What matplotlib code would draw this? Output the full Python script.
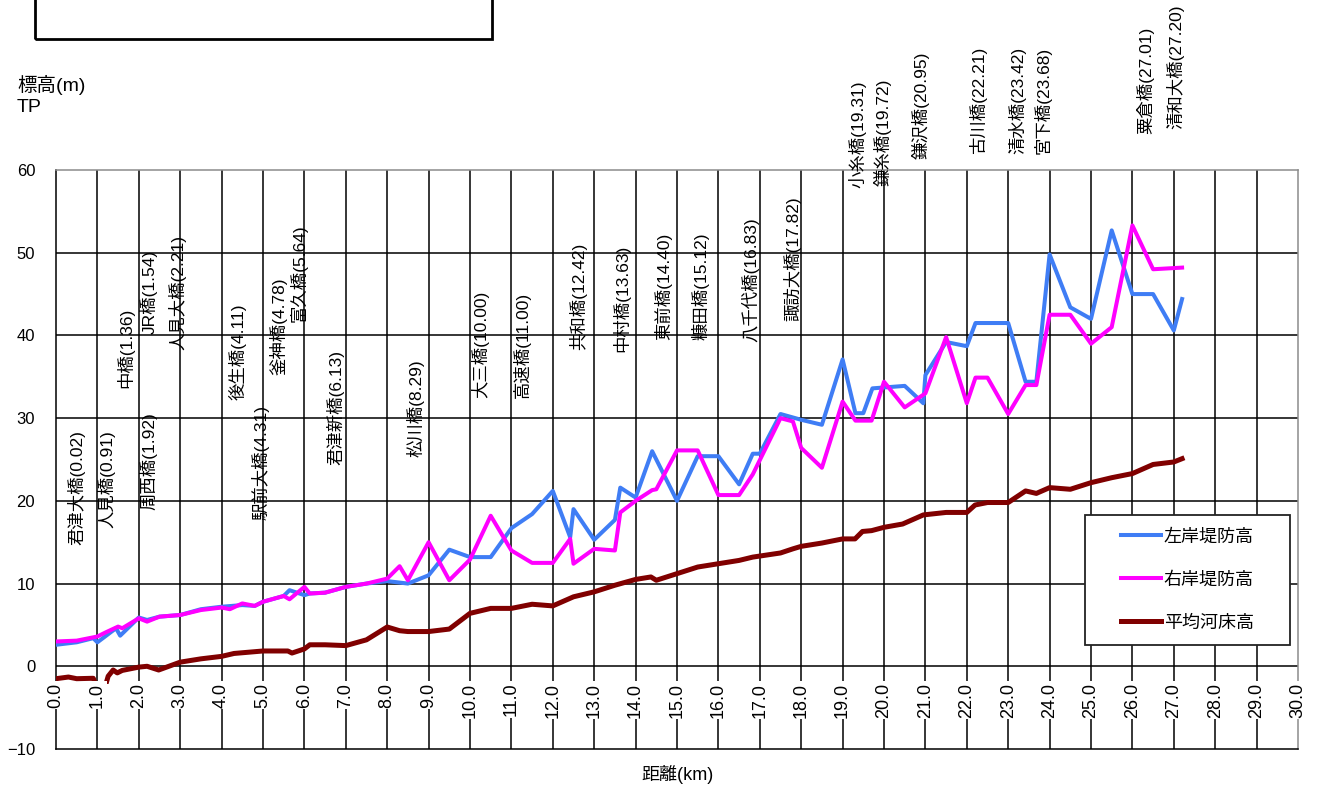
import matplotlib
matplotlib.use('Agg')
import matplotlib.pyplot as plt
from matplotlib.patches import Rectangle

plt.rcParams['font.family'] = ['Liberation Sans', 'Noto Sans CJK JP']

# 左岸堤防高
left_km = [0.0, 0.5, 0.9, 1.0, 1.45, 1.55, 2.0, 2.2, 2.5, 3.0,
           3.5, 4.0, 4.5, 4.8, 5.0, 5.5, 5.64, 6.0, 6.13, 6.5,
           7.0, 7.5, 8.0, 8.5, 9.0, 9.5, 10.0, 10.5, 11.0, 11.5,
           12.0, 12.42, 12.5, 13.0, 13.5, 13.63, 14.0, 14.4, 15.0, 15.5,
           16.0, 16.5, 16.83, 17.0, 17.5, 18.0, 18.5, 19.0, 19.31, 19.5,
           19.72, 20.5, 20.95, 21.0, 21.5, 22.0, 22.21, 23.0, 23.42, 23.68,
           24.0, 24.5, 25.0, 25.5, 26.0, 26.5, 27.0, 27.2]
left_h = [2.6, 2.9, 3.4, 2.9, 4.6, 3.7, 5.9, 5.6, 6.0, 6.2,
          6.9, 7.2, 7.4, 7.3, 7.8, 8.5, 9.2, 8.6, 8.8, 8.9,
          9.6, 10.0, 10.3, 10.0, 11.0, 14.1, 13.2, 13.2, 16.7, 18.4,
          21.2, 15.6, 19.0, 15.3, 17.7, 21.6, 20.4, 26.0, 20.0, 25.4,
          25.4, 22.0, 25.7, 25.7, 30.5, 29.8, 29.2, 37.1, 30.6, 30.6,
          33.6, 33.9, 31.8, 35.2, 39.2, 38.7, 41.5, 41.5, 34.4, 34.4,
          49.8, 43.4, 42.0, 52.7, 45.0, 45.0, 40.6, 44.4]

# 右岸堤防高
right_km = [0.0, 0.5, 1.0, 1.2, 1.5, 1.6, 2.0, 2.2, 2.5, 3.0,
            3.5, 4.0, 4.2, 4.5, 4.8, 5.0, 5.5, 5.64, 6.0, 6.13,
            6.5, 7.0, 7.5, 8.0, 8.3, 8.5, 9.0, 9.5, 10.0, 10.5,
            11.0, 11.5, 12.0, 12.42, 12.5, 13.0, 13.5, 13.63, 14.0, 14.4,
            14.5, 15.0, 15.5, 16.0, 16.5, 16.83, 17.5, 17.8, 18.0, 18.5,
            19.0, 19.31, 19.7, 20.0, 20.5, 21.0, 21.5, 22.0, 22.21, 22.5,
            23.0, 23.42, 23.68, 24.0, 24.5, 25.0, 25.5, 26.0, 26.5, 27.2]
right_h = [3.0, 3.1, 3.6, 4.1, 4.8, 4.6, 5.8, 5.4, 6.0, 6.2,
           6.8, 7.1, 6.9, 7.6, 7.3, 7.8, 8.5, 8.1, 9.6, 8.8,
           8.9, 9.6, 10.0, 10.6, 12.1, 10.4, 15.0, 10.4, 12.9, 18.2,
           14.0, 12.5, 12.5, 15.4, 12.4, 14.2, 14.0, 18.6, 20.0, 21.3,
           21.4, 26.1, 26.1, 20.7, 20.7, 23.2, 30.0, 29.6, 26.4, 24.0,
           32.0, 29.7, 29.7, 34.4, 31.3, 33.0, 39.8, 31.8, 34.9, 34.9,
           30.5, 34.0, 34.0, 42.5, 42.5, 39.0, 41.0, 53.3, 48.0, 48.2]

# 平均河床高
bed_km = [0.0, 0.3, 0.5, 0.9, 1.1, 1.26, 1.38, 1.48, 1.6, 2.0,
          2.2, 2.48, 3.0, 3.5, 4.0, 4.3, 5.0, 5.6, 5.7, 6.0,
          6.13, 6.5, 7.0, 7.5, 8.0, 8.3, 8.5, 9.0, 9.5, 10.0,
          10.5, 11.0, 11.5, 12.0, 12.5, 13.0, 13.5, 14.0, 14.37, 14.5,
          15.0, 15.5, 16.0, 16.5, 16.83, 17.5, 17.8, 18.0, 18.5, 19.0,
          19.3, 19.48, 19.7, 20.0, 20.45, 20.95, 21.5, 22.0, 22.2, 22.5,
          23.0, 23.42, 23.68, 24.0, 24.5, 25.0, 25.5, 26.0, 26.5, 27.0,
          27.2]
bed_h = [-1.5, -1.3, -1.5, -1.45, -4.0, -1.2, -0.45, -0.8, -0.5, -0.1,
         0.0, -0.45, 0.5, 0.9, 1.2, 1.55, 1.85, 1.85, 1.6, 2.1,
         2.6, 2.6, 2.5, 3.2, 4.75, 4.3, 4.2, 4.2, 4.5, 6.4,
         7.0, 7.0, 7.5, 7.3, 8.4, 9.0, 9.8, 10.5, 10.8, 10.4,
         11.2, 12.0, 12.4, 12.8, 13.2, 13.7, 14.2, 14.5, 14.9, 15.4,
         15.4, 16.3, 16.4, 16.8, 17.2, 18.3, 18.6, 18.6, 19.5, 19.8,
         19.8, 21.2, 20.9, 21.6, 21.4, 22.2, 22.8, 23.3, 24.4, 24.7,
         25.1]

# 橋梁名と距離標
bridge_names = ['君津大橋', '人見橋', '中橋', 'JR橋', '周西橋', '人見大橋',
                '後生橋', '駅前大橋', '釜神橋', '富久橋', '君津新橋', '松川橋',
                '大三橋', '高速橋', '共和橋', '中村橋', '東前橋', '糠田橋',
                '八千代橋', '諏訪大橋', '小糸橋', '鎌糸橋', '鎌沢橋', '古川橋',
                '清水橋', '宮下橋', '粟倉橋', '清和大橋']
bridge_km = ['0.02', '0.91', '1.36', '1.54', '1.92', '2.21',
             '4.11', '4.31', '4.78', '5.64', '6.13', '8.29',
             '10.00', '11.00', '12.42', '13.63', '14.40', '15.12',
             '16.83', '17.82', '19.31', '19.72', '20.95', '22.21',
             '23.42', '23.68', '27.01', '27.20']

# label anchor (x = column centre, y = start of the text)
label_xy = [(0.49, 14.7), (1.21, 16.7), (1.67, 33.6), (2.23, 40.2), (2.23, 18.9), (2.93, 38.2),
            (4.38, 32.2), (4.93, 17.7), (5.37, 35.2), (5.85, 41.6), (6.75, 24.3), (8.68, 25.3),
            (10.25, 32.4), (11.26, 32.4), (12.62, 38.2), (13.65, 38.0), (14.67, 39.4), (15.56, 39.4),
            (16.77, 39.2), (17.79, 41.8), (19.36, 57.8), (19.96, 58.1), (20.88, 61.3), (22.28, 61.9),
            (23.22, 61.9), (23.82, 61.9), (26.31, 64.3), (27.04, 64.9)]

W, H = 1317, 787
fig = plt.figure(figsize=(W / 100, H / 100), dpi=100)
ax = fig.add_axes([56 / W, 1 - 749 / H, (1298 - 56) / W, (749 - 170) / H])
ax.set_xlim(0, 30)
ax.set_ylim(-10, 60)

# grid
for y in range(0, 60, 10):
    ax.axhline(y, color='black', lw=1.1, zorder=1)
for x in range(1, 30):
    ax.axvline(x, color='black', lw=1.1, zorder=1)
for s in ['left', 'bottom']:
    ax.spines[s].set_color('black')
    ax.spines[s].set_linewidth(1.1)
for s in ['top', 'right']:
    ax.spines[s].set_color('#8c8c8c')
    ax.spines[s].set_linewidth(1.1)

ax.set_xticks([])
ax.set_yticks(range(-10, 61, 10))
ax.tick_params(axis='y', length=0, pad=15, labelsize=12)

clip = Rectangle((0, -2.1), 30, 63, transform=ax.transData)
l1, = ax.plot(left_km, left_h, color='#3f7df5', lw=2.9, label='左岸堤防高', zorder=3)
l2, = ax.plot(right_km, right_h, color='#ff00ff', lw=2.9, label='右岸堤防高', zorder=3)
l3, = ax.plot(bed_km, bed_h, color='#800000', lw=3.6, label='平均河床高', zorder=3)
for ln in (l1, l2, l3):
    ln.set_clip_path(clip)

# distance labels sit inside the plot, below the 0 line
for k in range(31):
    ax.text(k, -2.0, f'{k:.1f}', rotation=90, ha='center', va='top', fontsize=13,
            bbox=dict(facecolor='white', edgecolor='none', pad=1), zorder=4)

for name, km, (lx, ly) in zip(bridge_names, bridge_km, label_xy):
    ax.text(lx, ly, f'{name}({km})', rotation=90, ha='center', va='bottom',
            fontsize=12.5, clip_on=False, zorder=3.5)

# legend box
ax.add_patch(Rectangle((0.8285, 0.1796), 0.1651, 0.2245, transform=ax.transAxes,
                       facecolor='white', edgecolor='#222222', lw=1.3, zorder=5))
leg = ax.legend(handles=[l1, l2, l3], loc='center', bbox_to_anchor=(0.911, 0.292),
                frameon=False, fontsize=13, handlelength=2.2, handletextpad=0.15,
                labelspacing=1.45)
leg.set_zorder(6)

fig.text(17 / W, 1 - 85 / H, '標高(m)', fontsize=14, va='center', ha='left')
fig.text(17 / W, 1 - 108 / H, 'TP', fontsize=14, va='center', ha='left')
fig.text(677 / W, 1 - 775 / H, '距離(km)', fontsize=13, va='center', ha='center')

fig.patches.append(Rectangle((35 / W, 1 - 39 / H), (492 - 35) / W, 0.2,
                             transform=fig.transFigure, fill=False,
                             edgecolor='black', lw=2, clip_on=False))

fig.savefig('out.png', dpi=100)
